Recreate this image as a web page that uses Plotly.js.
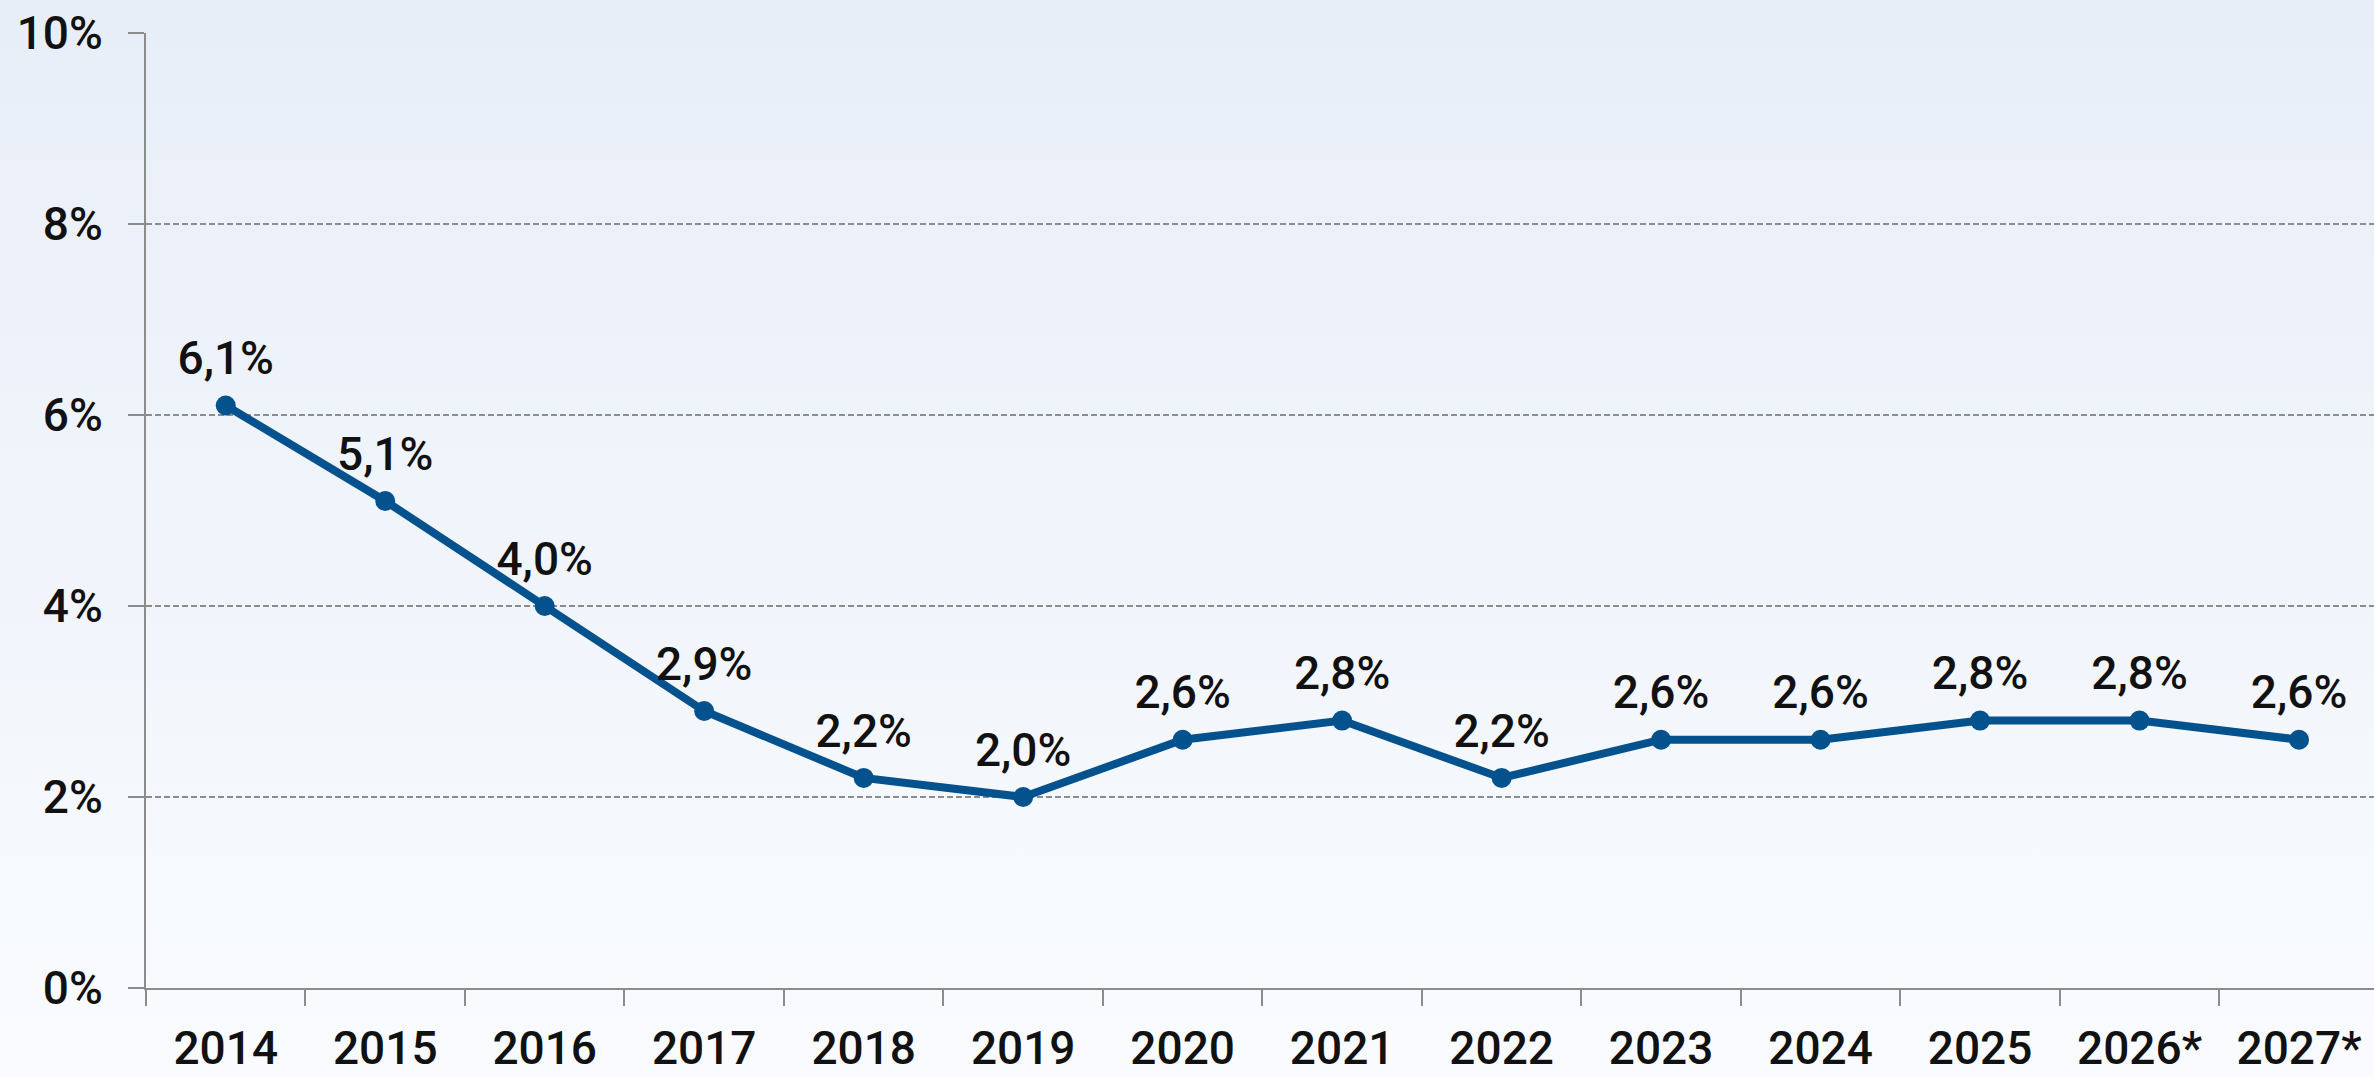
<!DOCTYPE html>
<html>
<head>
<meta charset="utf-8">
<script src="https://cdn.plot.ly/plotly-3.0.1.min.js"></script>
<style>
  html, body { margin: 0; padding: 0; }
  body { width: 2374px; height: 1077px; background: linear-gradient(to bottom, #e8eef8 0%, #f9fbfe 100%); }
  #chart { width: 2374px; height: 1077px; }
</style>
</head>
<body>
<div id="chart"></div>
<script>
const years = ['2014','2015','2016','2017','2018','2019','2020','2021','2022','2023','2024','2025','2026*','2027*'];
const rates = [6.1, 5.1, 4.0, 2.9, 2.2, 2.0, 2.6, 2.8, 2.2, 2.6, 2.6, 2.8, 2.8, 2.6];
const yTickVals = [0, 2, 4, 6, 8, 10];
const yTickText = ['0%', '2%', '4%', '6%', '8%', '10%'];

const labels = rates.map(v => v.toFixed(1).replace('.', ',') + '%');
const FONT = 'Roboto, "DejaVu Sans Condensed", sans-serif';

const lineTrace = {
  x: years,
  y: rates,
  type: 'scatter',
  mode: 'lines+markers',
  line: { color: '#03528e', width: 8 },
  marker: { color: '#03528e', size: 20 },
  cliponaxis: false,
  hoverinfo: 'skip'
};

const textTrace = {
  x: years,
  y: rates,
  type: 'scatter',
  mode: 'markers+text',
  text: labels,
  textposition: 'top center',
  textfont: { family: FONT, size: 46, color: '#111111', weight: 500 },
  marker: { color: 'rgba(0,0,0,0)', size: 30 },
  cliponaxis: false,
  hoverinfo: 'skip'
};

const layout = {
  width: 2374,
  height: 1077,
  margin: { l: 146, r: 0, t: 33, b: 89 },
  paper_bgcolor: 'rgba(0,0,0,0)',
  plot_bgcolor: 'rgba(0,0,0,0)',
  showlegend: false,
  font: { family: FONT, size: 46, color: '#111111' },
  xaxis: {
    type: 'category',
    range: [-0.5, 13.47],
    tickson: 'boundaries',
    ticks: 'outside',
    ticklen: 16,
    tickwidth: 2,
    tickcolor: '#8c8c8c',
    showline: true,
    linecolor: '#8c8c8c',
    linewidth: 2,
    showgrid: false,
    zeroline: false,
    ticklabelstandoff: 19,
    tickfont: { family: FONT, size: 46, color: '#111111', weight: 500 },
    fixedrange: true
  },
  yaxis: {
    range: [0, 10],
    tickvals: yTickVals,
    ticktext: yTickText,
    ticks: 'outside',
    ticklen: 16,
    tickwidth: 2,
    tickcolor: '#8c8c8c',
    showline: true,
    linecolor: '#8c8c8c',
    linewidth: 2,
    showgrid: true,
    gridcolor: '#8c8c8c',
    gridwidth: 2,
    griddash: '6px,3px',
    zeroline: false,
    ticklabelstandoff: 16,
    tickfont: { family: FONT, size: 46, color: '#111111', weight: 500 },
    fixedrange: true
  }
};

Plotly.newPlot('chart', [lineTrace, textTrace], layout, { staticPlot: true, displayModeBar: false });
</script>
</body>
</html>
